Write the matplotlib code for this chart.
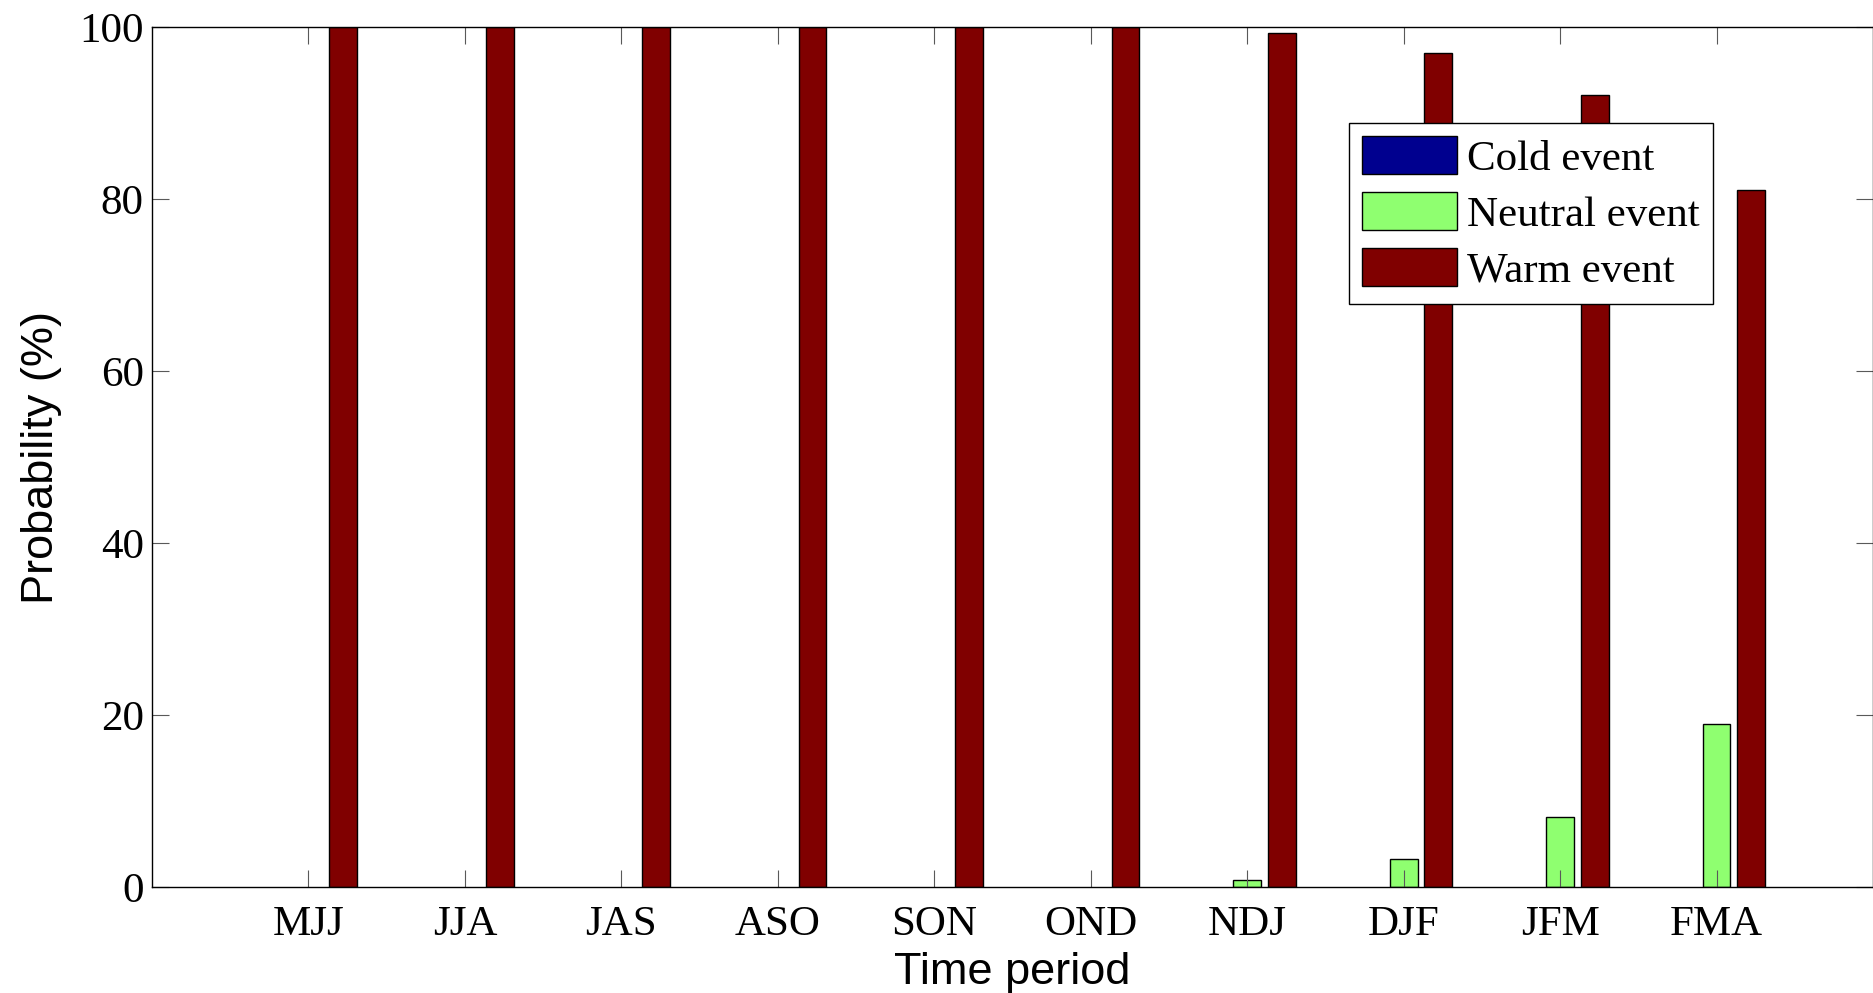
import numpy as np
import matplotlib
matplotlib.use("Agg")
import matplotlib.pyplot as plt

periods = ['MJJ', 'JJA', 'JAS', 'ASO', 'SON', 'OND', 'NDJ', 'DJF', 'JFM', 'FMA']
cold = [0, 0, 0, 0, 0, 0, 0, 0, 0, 0]
neutral = [0, 0, 0, 0, 0, 0, 0.8, 3.2, 8.1, 19.0]
warm = [100, 100, 100, 100, 100, 100, 99.3, 97.0, 92.1, 81.0]

names = ['Cold event', 'Neutral event', 'Warm event']
colors = ['#00008f', '#8fff70', '#800000']   # jet(3) as in matlab

W, H = 1874, 993
fig = plt.figure(figsize=(W / 100, H / 100), dpi=100)
ax = fig.add_axes([152 / W, 1 - 887 / H, 1721 / W, 860 / H])

x = np.arange(1, len(periods) + 1)
gw = 2 / 3.                     # group width
bw = gw / 3 * 0.8               # single bar width
for i, (vals, c, nm) in enumerate(zip([cold, neutral, warm], colors, names)):
    lw = [1.0 if v > 0 else 0 for v in vals]
    ax.bar(x + (i - 1) * gw / 3, vals, bw, color=c, edgecolor='k',
           linewidth=lw, label=nm)

ax.set_xlim(0, 11)
ax.set_ylim(0, 100)
ax.set_xticks(x)
ax.set_xticklabels(periods)
ax.set_yticks(np.arange(0, 101, 20))

ax.tick_params(direction='in', length=12.5, width=0.8, color='0.35',
               top=True, right=True, pad=6, labelsize=31)
ax.tick_params(axis='x', pad=13)
for lab in ax.get_xticklabels() + ax.get_yticklabels():
    lab.set_family('Liberation Serif')
for s in ax.spines.values():
    s.set_linewidth(1.0)

ax.set_xlabel('Time period', family='Liberation Sans', fontsize=32.5, labelpad=6)
ax.set_ylabel('Probability (%)', family='Liberation Sans', fontsize=32.5, labelpad=12)

leg = ax.legend(loc='upper left', bbox_to_anchor=(1349 / W, 1 - 123 / H),
                bbox_transform=fig.transFigure, fancybox=False, framealpha=1,
                edgecolor='k', prop={'family': 'Liberation Serif', 'size': 31},
                handlelength=2.2, handleheight=1.0, handletextpad=0.25,
                borderpad=0.3, labelspacing=0.3, borderaxespad=0)
leg.get_frame().set_linewidth(1.0)
for p in leg.get_patches():
    p.set_linewidth(1.0)

fig.savefig('out.png', dpi=100)
